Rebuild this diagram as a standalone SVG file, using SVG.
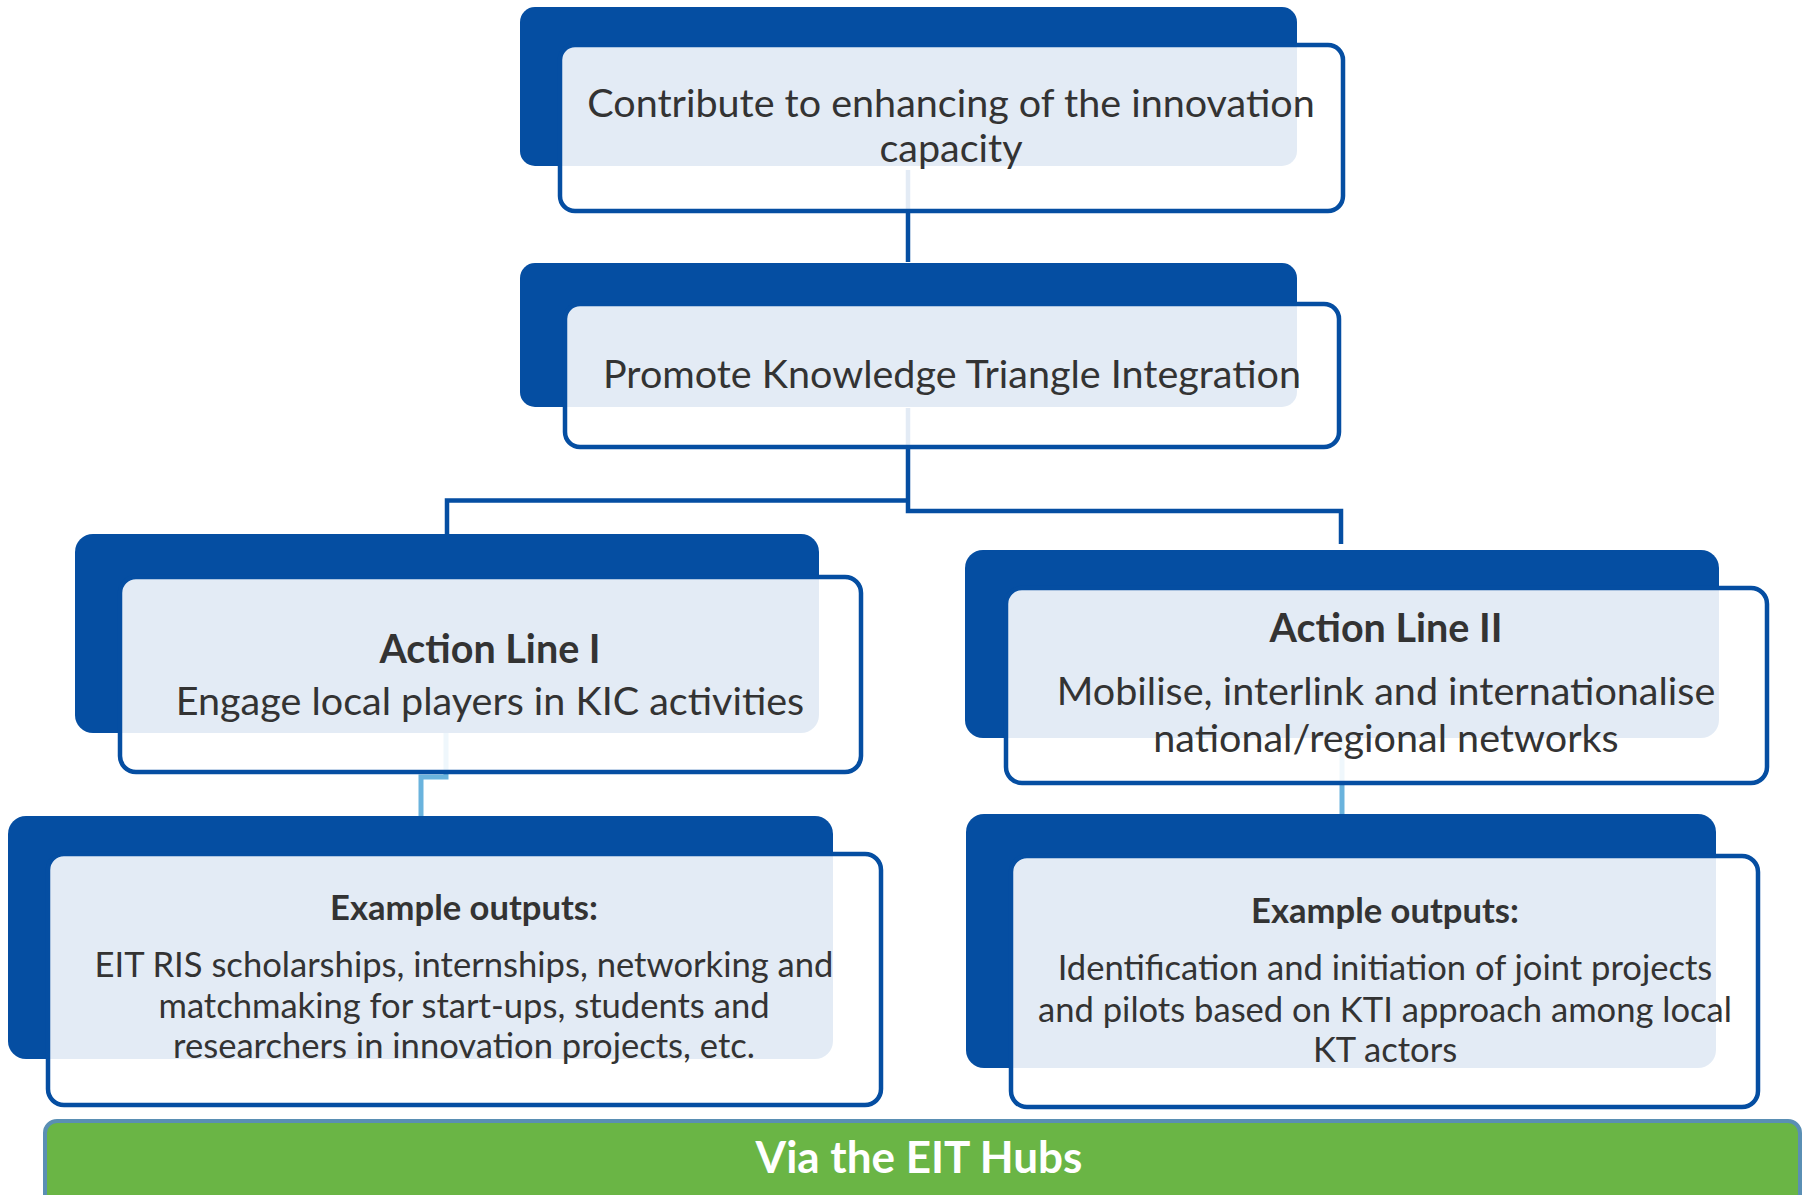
<svg xmlns="http://www.w3.org/2000/svg" width="1808" height="1195" viewBox="0 0 1808 1195">
<style>
.back{fill:#054EA2}
.front{fill:#ffffff;fill-opacity:0.89;stroke:#054EA2;stroke-width:4.5}
.t{font-family:Lato,"Liberation Sans",sans-serif;fill:#333333;text-anchor:middle}
.m{font-size:39.5px}
.s{font-size:34.6px}
.b{font-weight:bold}
.dk{fill:none;stroke:#054EA2;stroke-width:4.5}
.lt{fill:none;stroke:#6AB3DD;stroke-width:5}
</style>
<rect width="1808" height="1195" fill="#ffffff"/>
<g id="connectors">
<path class="dk" d="M908,170 V262"/>
<path class="dk" d="M908,408 V511 H1341 V544"/>
<path class="dk" d="M908,500.5 H447 V534"/>
<path class="lt" d="M446,733 V777 H421 V816"/>
<path class="lt" d="M1342,738 V815"/>
</g>
<g id="node-capacity">
<rect class="back" x="520" y="7" width="777" height="159" rx="15"/>
<rect class="front" x="560" y="45" width="783" height="166" rx="15"/>
<text class="t m" x="951" y="117">Contribute to enhancing of the innovation</text>
<text class="t m" x="951" y="162">capacity</text>
</g>
<g id="node-kti">
<rect class="back" x="520" y="263" width="777" height="144" rx="15"/>
<rect class="front" x="565" y="304" width="774" height="143" rx="15"/>
<text class="t m" x="952" y="388">Promote Knowledge Triangle Integration</text>
</g>
<g id="node-action-line-1">
<rect class="back" x="75" y="534" width="744" height="199" rx="18"/>
<rect class="front" x="120" y="577" width="741" height="195" rx="16"/>
<text class="t m b" x="490" y="663">Action Line I</text>
<text class="t m" x="490" y="715">Engage local players in KIC activities</text>
</g>
<g id="node-action-line-2">
<rect class="back" x="965" y="550" width="754" height="188" rx="18"/>
<rect class="front" x="1006" y="588" width="761" height="195" rx="16"/>
<text class="t m b" x="1386" y="642">Action Line II</text>
<text class="t m" x="1386" y="705">Mobilise, interlink and internationalise</text>
<text class="t m" x="1386" y="752">national/regional networks</text>
</g>
<g id="node-outputs-1">
<rect class="back" x="8" y="816" width="825" height="243" rx="18"/>
<rect class="front" x="48" y="854" width="833" height="251" rx="16"/>
<text class="t s b" x="464" y="920">Example outputs:</text>
<text class="t s" x="464" y="977">EIT RIS scholarships, internships, networking and</text>
<text class="t s" x="464" y="1018">matchmaking for start-ups, students and</text>
<text class="t s" x="464" y="1058">researchers in innovation projects, etc.</text>
</g>
<g id="node-outputs-2">
<rect class="back" x="966" y="814" width="750" height="254" rx="18"/>
<rect class="front" x="1011" y="856" width="747" height="251" rx="16"/>
<text class="t s b" x="1385" y="923">Example outputs:</text>
<text class="t s" x="1385" y="980">Identification and initiation of joint projects</text>
<text class="t s" x="1385" y="1022">and pilots based on KTI approach among local</text>
<text class="t s" x="1385" y="1062">KT actors</text>
</g>
<g id="node-hubs">
<rect x="45" y="1121" width="1755" height="90" rx="12" fill="#6AB545" stroke="#5A8FB4" stroke-width="4"/>
<text x="919" y="1173" font-family="Lato,'Liberation Sans',sans-serif" font-size="44px" font-weight="bold" fill="#ffffff" text-anchor="middle">Via the EIT Hubs</text>
</g>
</svg>
